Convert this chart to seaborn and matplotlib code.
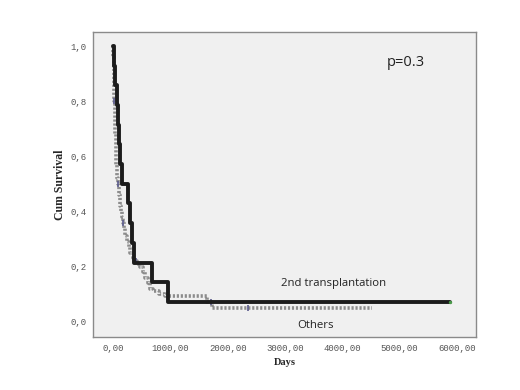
import matplotlib
matplotlib.use("Agg")
import matplotlib.pyplot as plt
import seaborn as sns
import pandas as pd
from matplotlib.ticker import FuncFormatter

# Kaplan-Meier step curves
trans_days = [0, 20, 40, 60, 80, 100, 125, 150, 265, 300, 335, 370, 680, 960, 5880]
trans_surv = [1.0, 0.929, 0.857, 0.786, 0.714, 0.643, 0.571, 0.5, 0.429,
              0.357, 0.286, 0.214, 0.143, 0.071, 0.071]

others_days = [0, 4, 8, 12, 16, 20, 25, 30, 36, 42, 50, 58, 66, 75, 85, 95,
               105, 115, 125, 140, 155, 170, 190, 210, 240, 270, 300, 340,
               370, 420, 470, 520, 560, 610, 650, 700, 800, 900, 1640, 1730,
               4520]
others_surv = [1.0, 0.96, 0.92, 0.88, 0.84, 0.80, 0.76, 0.72, 0.68, 0.64,
               0.60, 0.57, 0.54, 0.52, 0.50, 0.48, 0.46, 0.44, 0.42, 0.40,
               0.38, 0.36, 0.34, 0.31, 0.29, 0.27, 0.25, 0.23, 0.22, 0.21,
               0.20, 0.18, 0.16, 0.14, 0.12, 0.11, 0.10, 0.095, 0.072, 0.05,
               0.05]

# censored marks (blue-ish ticks on "Others", green end on 2nd transplantation)
others_cens_days = [20, 85, 170, 400, 1700, 2350]
others_cens_surv = [0.80, 0.50, 0.36, 0.22, 0.072, 0.05]

group_labels = ["2nd transplantation", "Others"]

trans = pd.DataFrame({"days": trans_days, "surv": trans_surv})
others = pd.DataFrame({"days": others_days, "surv": others_surv})

sns.set_style("white")
fig = plt.figure(figsize=(5.2, 3.9), dpi=100)
ax = fig.add_axes([0.179, 0.136, 0.736, 0.782])
ax.set_facecolor("#f0f0f0")

sns.lineplot(data=others, x="days", y="surv", drawstyle="steps-post",
             estimator=None, color="#8c8c8c", lw=2.6, ls=(0, (0.6, 0.5)), ax=ax)
sns.scatterplot(x=others_cens_days, y=others_cens_surv, marker="|", s=25,
                color="#5a5a8c", linewidth=1.2, ax=ax, zorder=3)
sns.lineplot(data=trans, x="days", y="surv", drawstyle="steps-post",
             estimator=None, color="#1c1c1c", lw=2.8, ax=ax, zorder=4)
sns.scatterplot(x=[trans_days[-1]], y=[trans_surv[-1]], marker="o", s=6,
                color="#4a9a4a", linewidth=0, ax=ax, zorder=5)

ax.set_xlim(-350, 6330)
ax.set_ylim(-0.055, 1.051)
ax.set_xticks(range(0, 7000, 1000))
ax.set_yticks([0, 0.2, 0.4, 0.6, 0.8, 1.0])
ax.xaxis.set_major_formatter(FuncFormatter(lambda v, p: f"{v:.2f}".replace(".", ",")))
ax.yaxis.set_major_formatter(FuncFormatter(lambda v, p: f"{v:.1f}".replace(".", ",")))
ax.tick_params(direction="out", length=3, width=0.8, color="#666666",
               labelsize=6.5, labelcolor="#555555", pad=2)
for lab in ax.get_xticklabels() + ax.get_yticklabels():
    lab.set_family("Liberation Mono")
for s in ax.spines.values():
    s.set_color("#8a8a8a")
    s.set_linewidth(1.0)

ax.set_xlabel("Days", family="Liberation Serif", fontweight="bold", fontsize=7.5, labelpad=4)
ax.set_ylabel("Cum Survival", family="Liberation Serif", fontweight="bold", fontsize=8.5, labelpad=3)

ax.text(5110, 0.94, "p=0.3", ha="center", va="center", fontsize=10.5,
        family="Open Sans", color="#222222")
ax.text(3840, 0.14, group_labels[0], ha="center", va="center", fontsize=8.2,
        family="Open Sans", color="#222222")
ax.text(3530, -0.015, group_labels[1], ha="center", va="center", fontsize=8.2,
        family="Open Sans", color="#222222")

fig.savefig("out.png", dpi=100)
